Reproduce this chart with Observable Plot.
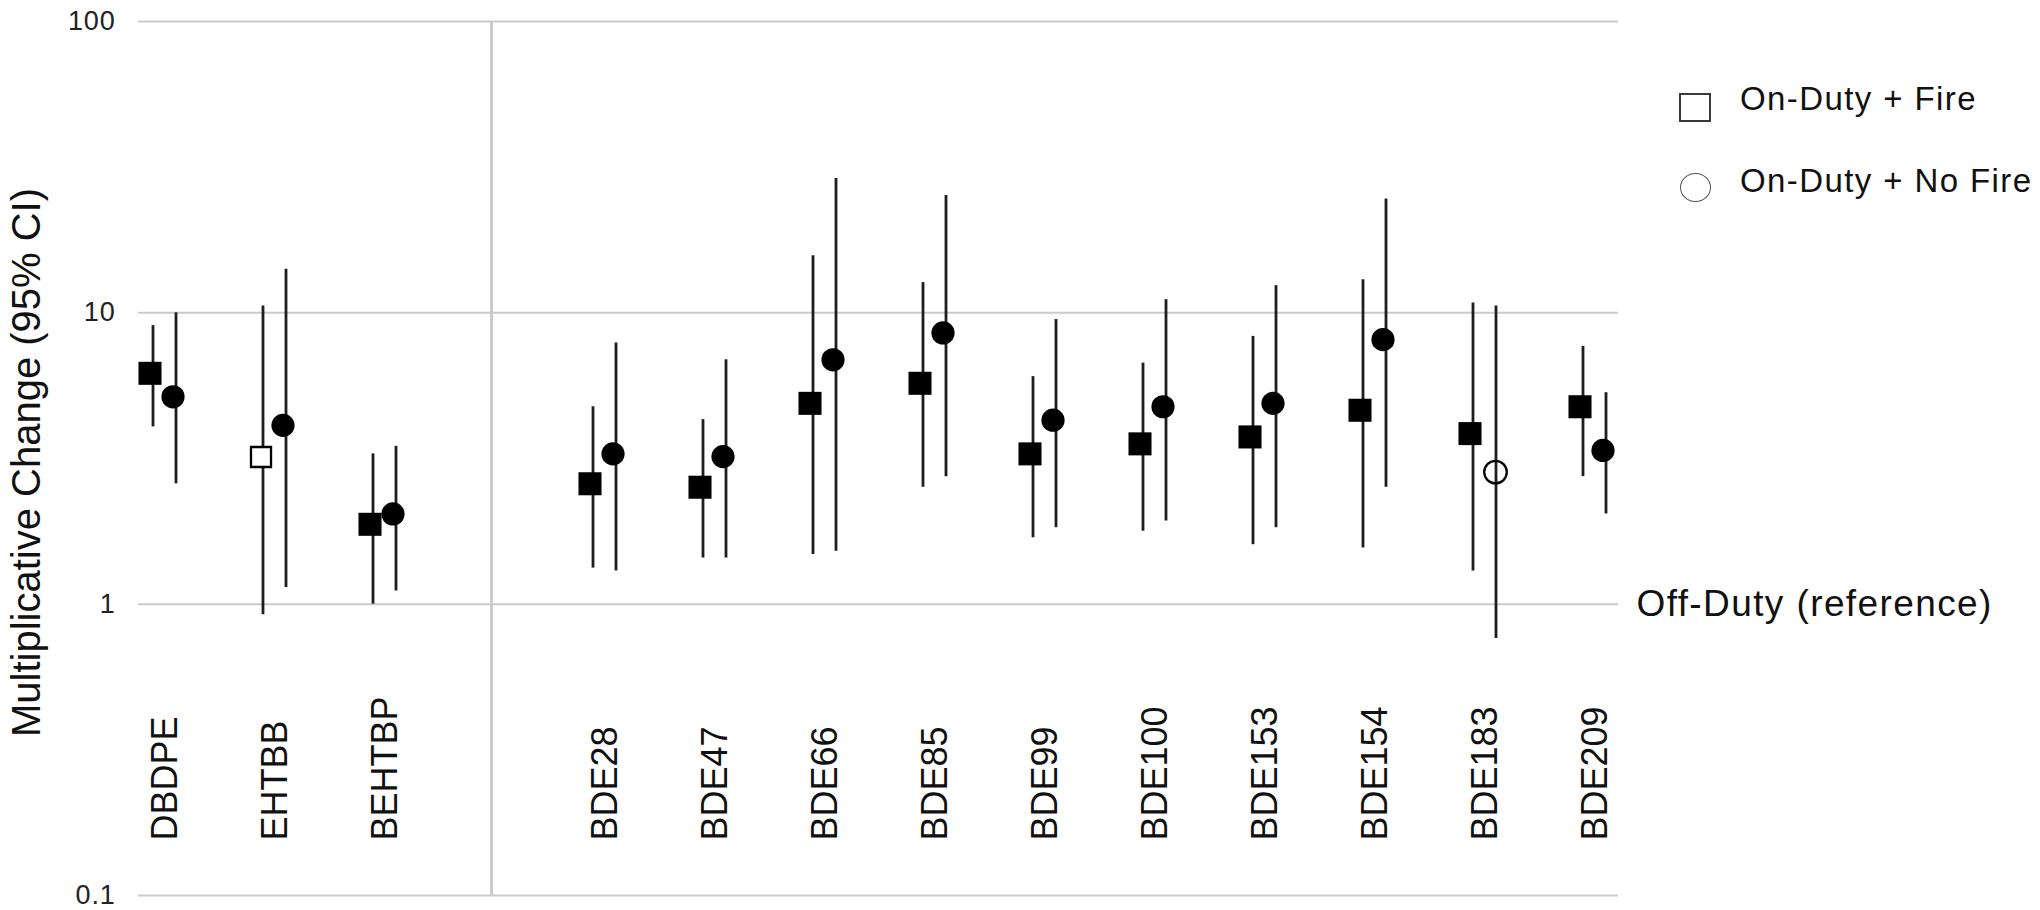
<!DOCTYPE html>
<html>
<head>
<meta charset="utf-8">
<script src="https://cdn.jsdelivr.net/npm/d3@7"></script>
<script src="https://cdn.jsdelivr.net/npm/@observablehq/plot@0.6"></script>
<style>
  html, body { margin: 0; padding: 0; background: #fff; }
  body { font-family: "Liberation Sans", Arial, sans-serif; }
  #wrap { position: relative; width: 2040px; height: 910px; overflow: hidden; }
  #chart svg { display: block; }
  .legend-text { position: absolute; font-size: 33px; line-height: 1; letter-spacing: 1.4px; color: #111; white-space: nowrap; }
  .legend-square { position: absolute; box-sizing: border-box; border: 2.5px solid #3a3a3a; background: #fff; }
  .legend-circle { position: absolute; box-sizing: border-box; border: 1.8px solid #555; border-radius: 50%; background: #fff; }
</style>
</head>
<body>
<div id="wrap">
  <div id="chart"></div>
  <div id="legend"></div>
</div>
<script>
// ---------- data ----------
const altCompounds = ["DBDPE", "EHTBB", "BEHTBP"];
const pbdeCompounds = ["BDE28", "BDE47", "BDE66", "BDE85", "BDE99", "BDE100", "BDE153", "BDE154", "BDE183", "BDE209"];
const groupSeparator = "";
const compounds = [...altCompounds, ...pbdeCompounds];

// On-Duty + Fire (squares)
const fireEstimate = [6.20, 3.20, 1.88, 2.59, 2.52, 4.89, 5.73, 3.28, 3.55, 3.75, 4.63, 3.85, 4.76];
const fireLower    = [4.06, 0.92, 1.00, 1.33, 1.44, 1.48, 2.52, 1.69, 1.78, 1.60, 1.56, 1.30, 2.74];
const fireUpper    = [9.04, 10.55, 3.28, 4.76, 4.30, 15.7, 12.7, 6.04, 6.72, 8.30, 13.0, 10.8, 7.67];
const fireSignificant = [true, false, true, true, true, true, true, true, true, true, true, true, true];

// On-Duty + No Fire (circles)
const noFireEstimate = [5.15, 4.11, 2.04, 3.28, 3.21, 6.90, 8.53, 4.28, 4.76, 4.89, 8.09, 2.84, 3.37];
const noFireLower    = [2.59, 1.14, 1.11, 1.30, 1.44, 1.52, 2.74, 1.83, 1.93, 1.83, 2.52, 0.763, 2.04];
const noFireUpper    = [10.0, 14.1, 3.48, 7.88, 6.90, 28.9, 25.3, 9.48, 11.1, 12.4, 24.6, 10.55, 5.32];
const noFireSignificant = [true, true, true, true, true, true, true, true, true, true, true, false, true];

const yTicks = [0.1, 1, 10, 100];
const yTickLabels = ["0.1", "1", "10", "100"];
const yTitle = "Multiplicative Change (95% CI)";
const referenceValue = [1];
const referenceLabel = "Off-Duty (reference)";
const legendLabels = ["On-Duty + Fire", "On-Duty + No Fire"];

// ---------- tables ----------
const fireRows = compounds.map((c, i) => ({compound: c, estimate: fireEstimate[i], low: fireLower[i], high: fireUpper[i], sig: fireSignificant[i]}));
const noFireRows = compounds.map((c, i) => ({compound: c, estimate: noFireEstimate[i], low: noFireLower[i], high: noFireUpper[i], sig: noFireSignificant[i]}));

const barColor = "#1e1e1e";
const gridColor = "#cbcbcb";

const chart = Plot.plot({
  width: 2040,
  height: 910,
  marginTop: 21,
  marginBottom: 15,
  marginLeft: 138,
  marginRight: 422,
  style: {fontFamily: "'Liberation Sans', Arial, sans-serif", fontSize: "27px", color: "#222", background: "#fff"},
  x: {type: "point", domain: [...altCompounds, groupSeparator, ...pbdeCompounds], padding: 0.22, align: 0.455, axis: null},
  y: {type: "log", domain: [0.1, 100], axis: null},
  marks: [
    Plot.ruleY(yTicks, {y: d => d, stroke: gridColor, strokeWidth: 2}),
    Plot.ruleX([groupSeparator], {x: d => d, stroke: gridColor, strokeWidth: 3}),
    Plot.axisY({ticks: yTicks, tickFormat: d => yTickLabels[yTicks.indexOf(d)], tickSize: 0, tickPadding: 23, fontSize: 27, label: null}),
    Plot.text([yTitle], {text: d => d, frameAnchor: "left", textAnchor: "middle", rotate: -90, dx: -111, dy: 4, fontSize: 40, fill: "#111"}),
    // error bars
    Plot.ruleX(fireRows, {x: "compound", y1: "low", y2: "high", dx: -8.5, stroke: barColor, strokeWidth: 2.8}),
    Plot.ruleX(noFireRows, {x: "compound", y1: "low", y2: "high", dx: 14.5, stroke: barColor, strokeWidth: 2.8}),
    // markers
    Plot.dot(fireRows.filter(d => d.sig), {x: "compound", y: "estimate", symbol: "square", r: 13, fill: "#000", dx: -11.5}),
    Plot.dot(fireRows.filter(d => !d.sig), {x: "compound", y: "estimate", symbol: "square", r: 11.3, fill: "#fff", stroke: "#000", strokeWidth: 2.3, dx: -10.5}),
    Plot.dot(noFireRows.filter(d => d.sig), {x: "compound", y: "estimate", symbol: "circle", r: 11.6, fill: "#000", dx: 11.5}),
    Plot.dot(noFireRows.filter(d => !d.sig), {x: "compound", y: "estimate", symbol: "circle", r: 11.3, fill: "none", stroke: "#000", strokeWidth: 2.3, dx: 14}),
    // category labels
    Plot.text(compounds, {x: d => d, text: d => d, frameAnchor: "bottom", rotate: -90, textAnchor: "start", dy: -55, dx: 15, fontSize: 36, fill: "#111"}),
    // reference label
    Plot.text(referenceValue, {y: d => d, text: () => referenceLabel, frameAnchor: "right", textAnchor: "start", dx: 18, fontSize: 37, fill: "#111"})
  ]
});
document.getElementById("chart").appendChild(chart);

// widen horizontal texts slightly, as in the reference
d3.select(chart).selectAll("text").each(function () {
  const t = this.textContent;
  if (t === referenceLabel) this.setAttribute("letter-spacing", "1.4");
  else if (yTickLabels.includes(t)) this.setAttribute("letter-spacing", "0.8");
});

// ---------- legend ----------
const legend = document.getElementById("legend");
const sq = document.createElement("div");
sq.className = "legend-square";
Object.assign(sq.style, {left: "1679px", top: "93px", width: "32px", height: "29px"});
legend.appendChild(sq);
const ci = document.createElement("div");
ci.className = "legend-circle";
Object.assign(ci.style, {left: "1680px", top: "173px", width: "31px", height: "29px"});
legend.appendChild(ci);
legendLabels.forEach((t, i) => {
  const el = document.createElement("div");
  el.className = "legend-text";
  el.textContent = t;
  el.style.left = "1740px";
  el.style.top = (i === 0 ? 82 : 164) + "px";
  legend.appendChild(el);
});
</script>
</body>
</html>
